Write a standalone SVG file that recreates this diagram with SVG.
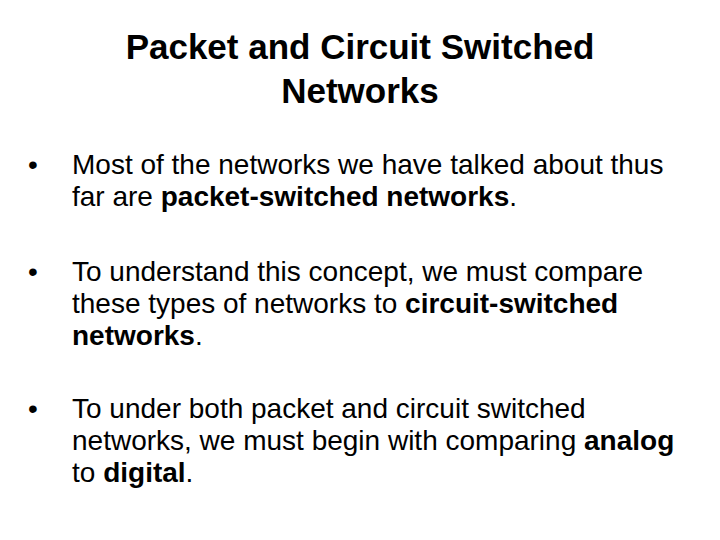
<svg xmlns="http://www.w3.org/2000/svg" width="720" height="540" viewBox="0 0 720 540">
<style>
text{font-family:"Liberation Sans",Arial,sans-serif;fill:#000}
.t{font-size:35px;font-weight:bold;text-anchor:middle}
.b{font-size:28px}
</style>
<rect width="720" height="540" fill="#fff"/>
<g id="title">
<text class="t" x="360" y="59">Packet and Circuit Switched</text>
<text class="t" x="360" y="103">Networks</text>
</g>
<g id="bullet1">
<text class="b" x="28" y="174">•</text>
<text class="b" x="72" y="174">Most of the networks we have talked about thus</text>
<text class="b" x="72" y="206">far are <tspan font-weight="bold">packet-switched networks</tspan>.</text>
</g>
<g id="bullet2">
<text class="b" x="28" y="281">•</text>
<text class="b" x="72" y="281">To understand this concept, we must compare</text>
<text class="b" x="72" y="313">these types of networks to <tspan font-weight="bold">circuit-switched</tspan></text>
<text class="b" x="72" y="345"><tspan font-weight="bold">networks</tspan>.</text>
</g>
<g id="bullet3">
<text class="b" x="28" y="418">•</text>
<text class="b" x="72" y="418">To under both packet and circuit switched</text>
<text class="b" x="72" y="450">networks, we must begin with comparing <tspan font-weight="bold">analog</tspan></text>
<text class="b" x="72" y="482">to <tspan font-weight="bold">digital</tspan>.</text>
</g>
</svg>
